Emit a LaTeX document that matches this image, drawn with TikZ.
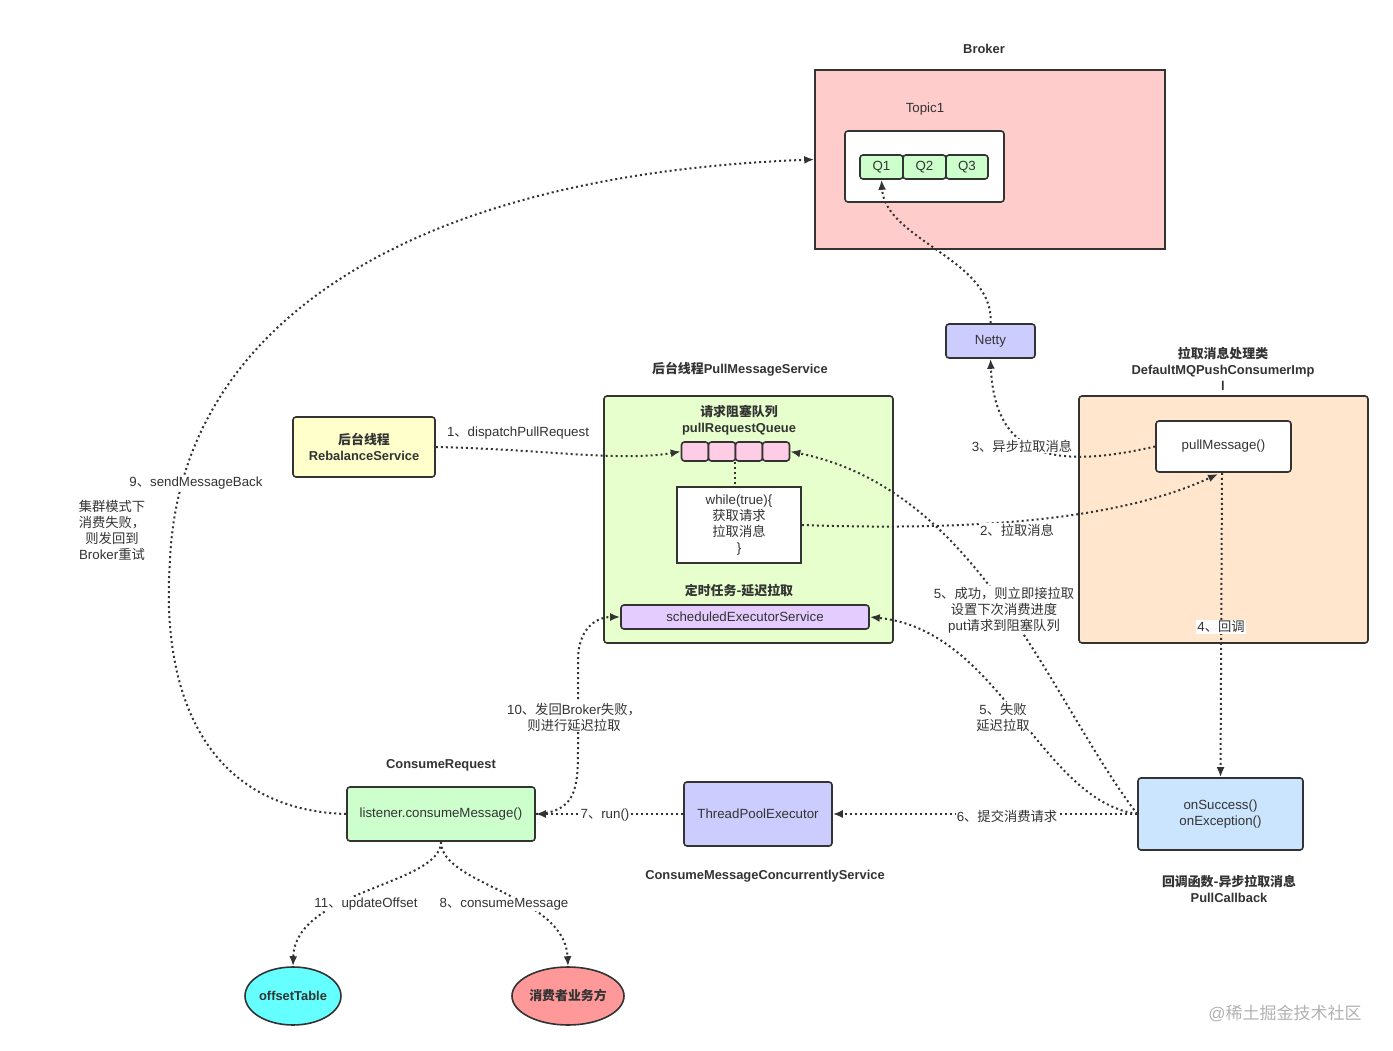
\documentclass[tikz,border=0pt]{standalone}
\usepackage{fontspec}
\setmainfont{Liberation Sans}
\newfontfamily\zhfont{Noto Sans CJK SC}
\newcommand{\zh}[1]{{\zhfont #1}}
\usetikzlibrary{arrows.meta,shapes.geometric}
\definecolor{ln}{HTML}{333333}
\definecolor{brk}{HTML}{FFCCCC}
\definecolor{qg}{HTML}{CCFFCC}
\definecolor{lav}{HTML}{CCCCFF}
\definecolor{pg}{HTML}{E6FFCC}
\definecolor{qp}{HTML}{FFCCE6}
\definecolor{sch}{HTML}{E5CCFF}
\definecolor{yel}{HTML}{FFFFCC}
\definecolor{peach}{HTML}{FFE6CC}
\definecolor{cb}{HTML}{CCE5FF}
\definecolor{cyan1}{HTML}{66FFFF}
\definecolor{red1}{HTML}{FF9999}
\tikzset{
 bx/.style={draw=ln, line width=1.6pt, rounded corners=3pt, inner sep=0pt, align=center},
 sq/.style={draw=ln, line width=1.6pt, inner sep=0pt, align=center},
 nc/.style={draw=ln, line width=2pt, dash pattern=on 2pt off 3pt},
 cn/.style={nc, -{Latex[length=10pt,width=8pt]}},
 lbl/.style={fill=white, inner sep=1pt, align=center},
 ttl/.style={font=\fontsize{12.9}{16}\selectfont\bfseries, align=center}
}
\begin{document}
\begin{tikzpicture}[x=1pt,y=-1pt, font=\fontsize{13.3}{16}\selectfont, text=ln]
\fill[white] (0,0) rectangle (1393,1051);
\useasboundingbox (0,0) rectangle (1393,1051);

% Broker
\node[ttl] (tbroker) at (984,49) {Broker};
\node[sq, fill=brk, minimum width=350pt, minimum height=179pt] (broker) at (990,159.5) {};
\node (ttopic) at (925,109) {Topic1};
\node[bx, fill=white, minimum width=159pt, minimum height=71pt] (topic) at (924.5,166.5) {};
\node[bx, fill=qg, minimum width=43pt, minimum height=24pt] (q1) at (881.5,167) {Q1};
\node[bx, fill=qg, minimum width=43pt, minimum height=24pt] (q2) at (924.5,167) {Q2};
\node[bx, fill=qg, minimum width=42pt, minimum height=24pt] (q3) at (967,167) {Q3};

% Netty
\node[bx, fill=lav, minimum width=89pt, minimum height=34pt] (netty) at (990.5,341) {Netty};

% PullMessageService
\node[ttl] (tpms) at (740,369) {\zh{后台线程}PullMessageService};
\node[bx, fill=pg, minimum width=289pt, minimum height=247pt] (pms) at (748.5,519.5) {};
\node[ttl] (tqueue) at (739,420) {\zh{请求阻塞队列}\\pullRequestQueue};
\node[bx, fill=qp, minimum width=27pt, minimum height=19pt] (qc1) at (695,451.5) {};
\node[bx, fill=qp, minimum width=27pt, minimum height=19pt] (qc2) at (722,451.5) {};
\node[bx, fill=qp, minimum width=27pt, minimum height=19pt] (qc3) at (749,451.5) {};
\node[bx, fill=qp, minimum width=27pt, minimum height=19pt] (qc4) at (776,451.5) {};
\node[sq, fill=white, minimum width=124pt, minimum height=76pt] (wb) at (739,525) {while(true)\{\\\zh{获取请求}\\\zh{拉取消息}\\\}};
\node[ttl] (tsch) at (739,591) {\zh{定时任务-延迟拉取}};
\node[bx, fill=sch, minimum width=248pt, minimum height=24pt] (sch) at (745,617) {scheduledExecutorService};

% Rebalance
\node[bx, fill=yel, minimum width=142pt, minimum height=60pt, font=\fontsize{12.9}{16}\selectfont\bfseries] (reb) at (364,447) {\zh{后台线程}\\RebalanceService};

% Consumer impl
\node[ttl] (timpl) at (1223,369) {\zh{拉取消息处理类}\\DefaultMQPushConsumerImp\\l};
\node[bx, fill=peach, minimum width=289pt, minimum height=247pt] (impl) at (1223.5,519.5) {};
\node[bx, fill=white, minimum width=135pt, minimum height=51pt] (pull) at (1223.5,446.5) {pullMessage()};

% Callback
\node[bx, fill=cb, minimum width=165pt, minimum height=72pt] (cb) at (1220.5,814) {onSuccess()\\onException()};
\node[ttl] (tcb) at (1229,889) {\zh{回调函数-异步拉取消息}\\PullCallback};

% ThreadPool
\node[bx, fill=lav, minimum width=148pt, minimum height=64pt] (tp) at (758,814) {ThreadPoolExecutor};
\node[ttl] (ttp) at (765,876) {ConsumeMessageConcurrentlyService};

% Listener
\node[ttl] (tcr) at (441,765) {ConsumeRequest};
\node[bx, fill=qg, minimum width=188pt, minimum height=54pt] (lis) at (441,814) {listener.consumeMessage()};

% Ellipses
\node[ellipse, draw=ln, line width=1.6pt, fill=cyan1, minimum width=92pt, minimum height=58pt, inner sep=0pt, font=\fontsize{12.9}{16}\selectfont\bfseries] (off) at (293,996) {offsetTable};
\node[ellipse, draw=ln, line width=1.6pt, fill=red1, minimum width=112pt, minimum height=58pt, inner sep=0pt, font=\fontsize{12.9}{16}\selectfont\bfseries] (biz) at (568,996) {\zh{消费者业务方}};

% Connectors
\draw[cn] (reb.east) .. controls (540,449) and (620,462) .. (qc1.west);
\node (l1) at (518,433) {1\zh{、}dispatchPullRequest};

\draw[nc] (qc3.south west) -- (qc3.south west |- wb.north);

\draw[cn] (wb.east) .. controls (1000,532) and (1130,515) .. (1218,474);
\node[lbl] (l2) at (1017,530) {2\zh{、拉取消息}};

\draw[cn] (pull.west) .. controls (1060,468) and (995,462) .. (netty.south);
\node[lbl] (l3) at (1022,446) {3\zh{、异步拉取消息}};

\draw[cn] (netty.north) .. controls (995,260) and (885,240) .. (q1.south);

\draw[cn] (pull.south -| 1222,0) -- (cb.north);
\node[lbl, fill=white] (l4) at (1221,627) {4\zh{、回调}};

\draw[cn] (cb.west) .. controls (1050,700) and (980,490) .. (qc4.east);
\node[lbl] (l5a) at (1004,610) {5\zh{、成功，则立即接拉取}\\\zh{设置下次消费进度}\\put\zh{请求到阻塞队列}};

\draw[cn] (cb.west) .. controls (1040,800) and (1000,630) .. (sch.east);
\node[lbl] (l5b) at (1003,717) {5\zh{、失败}\\\zh{延迟拉取}};

\draw[cn] (cb.west) -- (tp.east);
\node[lbl] (l6) at (1007,816) {6\zh{、提交消费请求}};

\draw[cn] (tp.west) -- (lis.east);
\node[lbl] (l7) at (605,815) {7\zh{、}run()};

\draw[cn] (lis.east) .. controls (575,812) and (578,790) .. (578,750) -- (578,660) .. controls (578,630) and (595,617) .. (sch.west);
\node[lbl] (l10) at (574,717) {10\zh{、发回}Broker\zh{失败，}\\\zh{则进行延迟拉取}};

\draw[cn] (lis.west) .. controls (210,810) and (160,700) .. (170,560) .. controls (180,330) and (400,175) .. (broker.west);
\node[lbl] (l9) at (196,483) {9\zh{、}sendMessageBack};
\node (n9) at (112,530) [align=center] {\zh{集群模式下}\\\zh{消费失败，}\\\zh{则发回到}\\Broker\zh{重试}};

\draw[cn] (lis.south) .. controls (441,885) and (295,890) .. (off.north);
\node[lbl] (l11) at (366,904) {11\zh{、}updateOffset};
\draw[cn] (lis.south) .. controls (441,885) and (565,895) .. (biz.north);
\node[lbl] (l8) at (504,904) {8\zh{、}consumeMessage};

\node[text=black!30, font=\fontsize{17}{20}\selectfont] (wm) at (1285,1013) {@\zh{稀土掘金技术社区}};
\end{tikzpicture}
\end{document}
